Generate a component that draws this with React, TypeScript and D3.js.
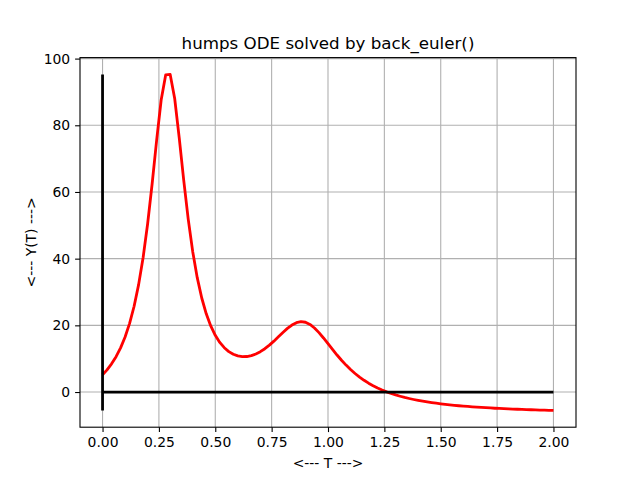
import React, { useRef, useEffect } from "react";
import * as d3 from "d3";

// back_euler solution of the humps ODE, h = 0.02 on [0, 2]
const T = d3.range(0, 101).map((i) => +(i * 0.02).toFixed(2));
const Y = [
  5.18, 6.66, 8.45, 10.61, 13.25, 16.52, 20.6, 25.73, 32.21, 40.36,
  50.46, 62.47, 75.56, 87.58, 95.11, 95.26, 88.03, 76.32, 63.54, 51.86,
  42.1, 34.3, 28.2, 23.47, 19.82, 17.02, 14.89, 13.29, 12.12, 11.32,
  10.83, 10.62, 10.65, 10.92, 11.41, 12.1, 12.99, 14.06, 15.26, 16.55,
  17.85, 19.08, 20.1, 20.81, 21.11, 20.93, 20.28, 19.21, 17.82, 16.21,
  14.5, 12.77, 11.1, 9.53, 8.07, 6.74, 5.55, 4.48, 3.52, 2.66,
  1.9, 1.22, 0.61, 0.06, -0.43, -0.87, -1.26, -1.62, -1.94, -2.24,
  -2.51, -2.75, -2.97, -3.18, -3.36, -3.54, -3.7, -3.84, -3.98, -4.11,
  -4.22, -4.33, -4.44, -4.53, -4.62, -4.7, -4.78, -4.86, -4.93, -4.99,
  -5.05, -5.11, -5.17, -5.22, -5.27, -5.31, -5.36, -5.4, -5.44, -5.48,
  -5.51,
];
const xTicks = [0, 0.25, 0.5, 0.75, 1.0, 1.25, 1.5, 1.75, 2.0];
const yTicks = [0, 20, 40, 60, 80, 100];

const App = () => {
  const svgRef = useRef(null);

  useEffect(() => {
    const svg = d3.select(svgRef.current);
    svg.selectAll("*").remove();

    const width = 640;
    const height = 480;
    const margin = { top: 57.6, right: 64, bottom: 52.8, left: 80 };
    const innerW = width - margin.left - margin.right;
    const innerH = height - margin.top - margin.bottom;

    const ymin = d3.min(Y);
    const ymax = d3.max(Y);
    const pad = (ymax - ymin) * 0.05;

    const x = d3.scaleLinear().domain([-0.1, 2.1]).range([0, innerW]);
    const y = d3.scaleLinear().domain([ymin - pad, ymax + pad]).range([innerH, 0]);

    const font = "DejaVu Sans, sans-serif";

    svg.append("rect").attr("width", width).attr("height", height).attr("fill", "#fff");

    const g = svg.append("g").attr("transform", `translate(${margin.left},${margin.top})`);

    // grid
    g.selectAll(".gx")
      .data(xTicks)
      .enter()
      .append("line")
      .attr("x1", (d) => x(d))
      .attr("x2", (d) => x(d))
      .attr("y1", 0)
      .attr("y2", innerH)
      .attr("stroke", "#b0b0b0")
      .attr("stroke-width", 1.1);
    g.selectAll(".gy")
      .data(yTicks)
      .enter()
      .append("line")
      .attr("x1", 0)
      .attr("x2", innerW)
      .attr("y1", (d) => y(d))
      .attr("y2", (d) => y(d))
      .attr("stroke", "#b0b0b0")
      .attr("stroke-width", 1.1);

    // curve
    const line = d3
      .line()
      .x((d) => x(d[0]))
      .y((d) => y(d[1]));
    g.append("path")
      .datum(T.map((t, i) => [t, Y[i]]))
      .attr("d", line)
      .attr("fill", "none")
      .attr("stroke", "red")
      .attr("stroke-width", 2.8)
      .attr("stroke-linejoin", "round");

    // t and y axes drawn as black lines
    g.append("line")
      .attr("x1", x(0))
      .attr("x2", x(0))
      .attr("y1", y(ymin))
      .attr("y2", y(ymax))
      .attr("stroke", "black")
      .attr("stroke-width", 2.8);
    g.append("line")
      .attr("x1", x(0))
      .attr("x2", x(2))
      .attr("y1", y(0))
      .attr("y2", y(0))
      .attr("stroke", "black")
      .attr("stroke-width", 2.8);

    // frame
    g.append("rect")
      .attr("width", innerW)
      .attr("height", innerH)
      .attr("fill", "none")
      .attr("stroke", "black")
      .attr("stroke-width", 1.1);

    const xAxis = g
      .append("g")
      .attr("transform", `translate(0,${innerH})`)
      .call(
        d3.axisBottom(x).tickValues(xTicks).tickFormat(d3.format(".2f")).tickSizeOuter(0).tickSize(4.9).tickPadding(4.9)
      );
    const yAxis = g
      .append("g")
      .call(d3.axisLeft(y).tickValues(yTicks).tickFormat(d3.format("d")).tickSizeOuter(0).tickSize(4.9).tickPadding(4.9));

    [xAxis, yAxis].forEach((a) => {
      a.select(".domain").remove();
      a.selectAll("line").attr("stroke", "black").attr("stroke-width", 1.1);
      a.selectAll("text").attr("font-family", font).attr("font-size", 13.9).attr("fill", "black");
    });

    svg.append("text")
      .attr("x", margin.left + innerW / 2)
      .attr("y", margin.top - 8.3)
      .attr("text-anchor", "middle")
      .attr("font-family", font)
      .attr("font-size", 16.7)
      .text("humps ODE solved by back_euler()");

    svg.append("text")
      .attr("x", margin.left + innerW / 2)
      .attr("y", 468)
      .attr("text-anchor", "middle")
      .attr("font-family", font)
      .attr("font-size", 13.9)
      .text("<--- T --->");

    svg.append("text")
      .attr("transform", `translate(36,${margin.top + innerH / 2}) rotate(-90)`)
      .attr("text-anchor", "middle")
      .attr("font-family", font)
      .attr("font-size", 13.9)
      .text("<--- Y(T) --->");
  }, []);

  return <svg ref={svgRef} width={640} height={480} style={{ display: "block", position: "absolute", left: 0, top: 0 }} />;
};

export default App;
